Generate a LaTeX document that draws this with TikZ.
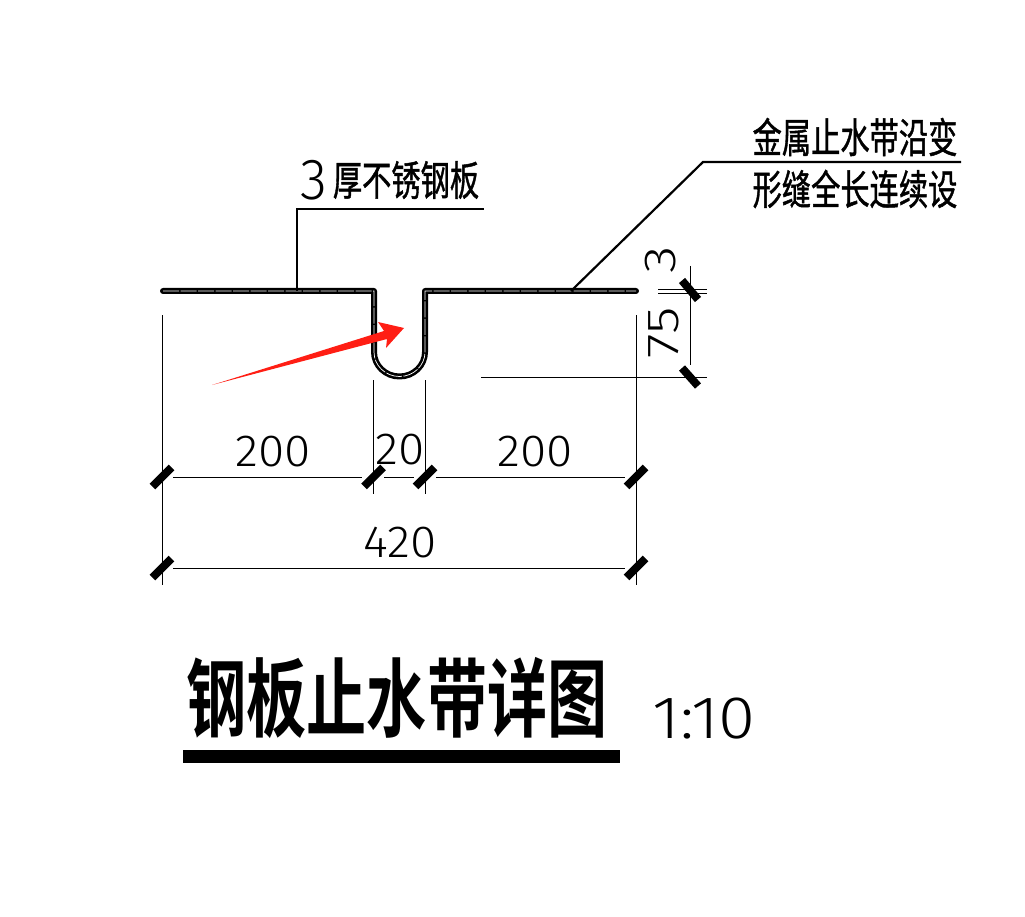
\documentclass[tikz,border=0pt]{standalone}
\usepackage{fontspec}
\newfontfamily\cjk[FakeBold=1.2]{Noto Sans CJK SC}
\newfontfamily\cjkb{Noto Sans CJK SC Bold}
\newfontfamily\cad{Fira Sans Light}
\tikzset{
  thinline/.style={line width=0.9pt,black},
  leader/.style={line width=2.2pt,black,line join=miter},
  tick/.style={line width=8pt,black},
  sheetout/.style={line width=6pt,black,line join=round,line cap=round},
  sheetin/.style={line width=0.7pt,white,dash pattern=on 16pt off 1.5pt},
  lbl/.style={inner sep=0pt,xscale=0.77,yscale=1.08,font=\cjk\fontsize{38}{38}\selectfont},
  num/.style={inner sep=0pt,xscale=1.06,font=\cad\fontsize{45}{45}\selectfont},
  numr/.style={inner sep=0pt,font=\cad\fontsize{45}{45}\selectfont,rotate=90,xscale=1.25},
}
\begin{document}
\begin{tikzpicture}[x=1pt,y=-1pt]
\useasboundingbox (0,0) rectangle (1025,917);
% sheet
\def\sheetpath{(163,291) -- (374,291) -- (374,352) arc[start angle=180,end angle=360,x radius=25.5,y radius=-24.5] -- (425,291) -- (636,291)}
\draw[sheetout] \sheetpath;
\draw[sheetin] \sheetpath;
% leaders
\coordinate (a1) at (297,291); \coordinate (a2) at (297,209); \coordinate (a3) at (484,209);
\coordinate (b1) at (571,291); \coordinate (b2) at (703,162); \coordinate (b3) at (961,162);
\draw[leader] (a1) -- (a2) -- (a3);
\draw[leader] (b1) -- (b2) -- (b3);
\node[lbl,anchor=center] (t1) at (406,180) {厚不锈钢板};
\node[inner sep=0pt,font=\cad\fontsize{58}{58}\selectfont,xscale=0.95] (t0) at (314,180) {3};
\node[lbl,anchor=center] (t2) at (855,137) {金属止水带沿变};
\node[lbl,anchor=center] (t3) at (855,189) {形缝全长连续设};
% extension lines
\draw[thinline] (162,315) -- (162,585);
\draw[thinline] (636,315) -- (636,585);
\draw[thinline] (373.5,380) -- (373.5,494);
\draw[thinline] (425,380) -- (425,494);
% dimension lines
\draw[thinline] (173,477) -- (362,477);
\draw[thinline] (384,477) -- (414,477);
\draw[thinline] (436,477) -- (625,477);
\draw[thinline] (173,568) -- (625,568);
\draw[thinline] (658,289) -- (707,289);
\draw[thinline] (658,293) -- (707,293);
\draw[thinline] (481,377) -- (707,377);
\draw[thinline] (690,266) -- (690,365);
% ticks
\foreach \p in {(162,477),(373.5,477),(425,477),(636,477),(162,568),(636,568)}{
  \draw[tick] \p ++(-9.5,9.5) -- ++(19,-19);
}
\draw[tick] (690,290) ++(-8,-9.5) -- ++(16,19);
\draw[tick] (690,377) ++(-8,-9) -- ++(16,18);
% numbers
\node[num] (d1) at (273,452) {200};
\node[num] (d2) at (400,450) {20};
\node[num] (d3) at (535,452) {200};
\node[num] (d4) at (400,543) {420};
\node[numr] (d5) at (661,260) {3};
\node[numr] (d6) at (664,333) {75};
% red arrow
\fill[fill={rgb,255:red,255;green,30;blue,20}] (212,385) -- (384,331) -- (378,322) -- (404,328) -- (386,348) -- (387,339) -- cycle;
% title
\node[inner sep=0pt,xscale=0.715,yscale=1.02,font=\cjkb\fontsize{84}{84}\selectfont] (title) at (397,698) {钢板止水带详图};
\fill[black] (183,750) rectangle (620,763);
\node[inner sep=0pt,font=\cad\fontsize{60}{60}\selectfont,xscale=1.12] (scale) at (704,719) {1:10};
\end{tikzpicture}
\end{document}
